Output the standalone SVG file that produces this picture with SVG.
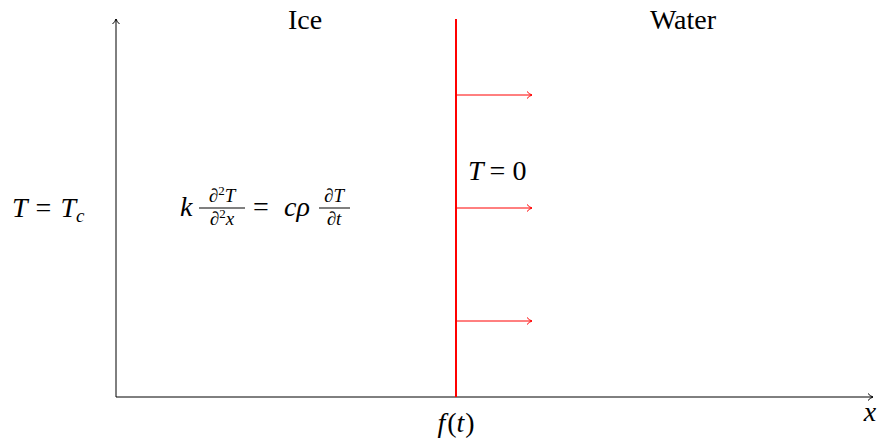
<svg xmlns="http://www.w3.org/2000/svg" width="877" height="443" viewBox="0 0 877 443">
<defs>
<marker id="ah" markerWidth="10" markerHeight="10" refX="8" refY="5" orient="auto" markerUnits="userSpaceOnUse">
<path d="M3,1.5 Q5,4 8,5 Q5,6 3,8.5" fill="none" stroke="#000" stroke-width="1"/>
</marker>
<marker id="rh" markerWidth="10" markerHeight="10" refX="8" refY="5" orient="auto" markerUnits="userSpaceOnUse">
<path d="M3,1.5 Q5,4 8,5 Q5,6 3,8.5" fill="none" stroke="#f00" stroke-width="1"/>
</marker>
</defs>
<g id="connectors" fill="none">
<line stroke="#000" stroke-width="1" x1="116" y1="397" x2="116" y2="19" marker-end="url(#ah)"/>
<line stroke="#000" stroke-width="1" x1="116" y1="397" x2="873" y2="397" marker-end="url(#ah)"/>
<line x1="456" y1="19" x2="456" y2="397" stroke="#f00" stroke-width="2"/>
<line stroke="#f00" stroke-width="1" x1="456" y1="95" x2="532" y2="95" marker-end="url(#rh)"/>
<line stroke="#f00" stroke-width="1" x1="456" y1="208" x2="532" y2="208" marker-end="url(#rh)"/>
<line stroke="#f00" stroke-width="1" x1="456" y1="321" x2="532" y2="321" marker-end="url(#rh)"/>
</g>
<g id="label-ice"><text x="305" y="29" font-size="28" style="font-family:'Liberation Serif',serif" text-anchor="middle">Ice</text></g>
<g id="label-water"><text x="683" y="29" font-size="28" style="font-family:'Liberation Serif',serif" text-anchor="middle">Water</text></g>
<g id="label-t0"><text x="468" y="180" font-size="28" style="font-family:'Liberation Serif',serif"><tspan font-style="italic">T</tspan><tspan dx="6">=</tspan><tspan dx="7">0</tspan></text></g>
<g id="label-tc"><text x="12" y="217" font-size="28" style="font-family:'Liberation Serif',serif"><tspan font-style="italic">T</tspan><tspan dx="8">=</tspan><tspan dx="9" font-style="italic">T</tspan><tspan font-style="italic" font-size="19" dy="5">c</tspan></text></g>
<g id="equation">
<text x="180" y="216" font-size="28" style="font-family:'Liberation Serif',serif" font-style="italic">k</text>
<text x="222" y="202" font-size="19" style="font-family:'Liberation Serif',serif" text-anchor="middle"><tspan font-style="italic">&#8706;</tspan><tspan font-size="13" dy="-7">2</tspan><tspan font-style="italic" dy="7">T</tspan></text>
<line x1="199" y1="208" x2="245" y2="208" stroke="#000" stroke-width="1"/>
<text x="222" y="225" font-size="19" style="font-family:'Liberation Serif',serif" text-anchor="middle"><tspan font-style="italic">&#8706;</tspan><tspan font-size="13" dy="-7">2</tspan><tspan font-style="italic" dy="7">x</tspan></text>
<text x="253" y="216" font-size="28" style="font-family:'Liberation Serif',serif">=</text>
<text x="284" y="216" font-size="28" style="font-family:'Liberation Serif',serif" font-style="italic">c&#961;</text>
<text x="334" y="202" font-size="19" style="font-family:'Liberation Serif',serif" font-style="italic" text-anchor="middle">&#8706;T</text>
<line x1="319" y1="208" x2="350" y2="208" stroke="#000" stroke-width="1"/>
<text x="334" y="225" font-size="19" style="font-family:'Liberation Serif',serif" font-style="italic" text-anchor="middle">&#8706;t</text>
</g>
<g id="label-ft"><text x="456" y="432" font-size="28" style="font-family:'Liberation Serif',serif" text-anchor="middle"><tspan font-style="italic">f</tspan><tspan dx="2">(</tspan><tspan font-style="italic">t</tspan><tspan dx="1">)</tspan></text></g>
<g id="label-x"><text x="870" y="421" font-size="28" style="font-family:'Liberation Serif',serif" font-style="italic" text-anchor="middle">x</text></g>
</svg>
